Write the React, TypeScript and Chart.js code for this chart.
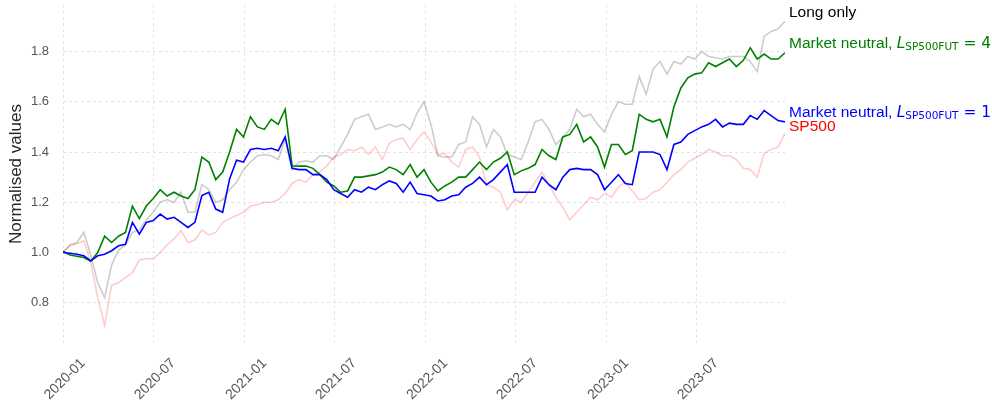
import React, { useEffect, useRef } from "react";
import { Chart, registerables } from "chart.js";

Chart.register(...registerables);

// ---- data ----
const startDate = "2020-01-01";
const stepDays = 14;

const longOnly = [
  1.00, 1.03, 1.04, 1.08, 0.99, 0.88, 0.82, 0.95, 1.01, 1.03,
  1.08, 1.09, 1.13, 1.16, 1.20, 1.21, 1.20, 1.24, 1.16, 1.16,
  1.27, 1.25, 1.20, 1.21, 1.25, 1.28, 1.33, 1.36, 1.385, 1.39,
  1.385, 1.37, 1.45, 1.33, 1.36, 1.365, 1.36, 1.385, 1.385, 1.37,
  1.42, 1.47, 1.53, 1.54, 1.55, 1.49, 1.50, 1.51, 1.50, 1.51,
  1.49, 1.555, 1.60, 1.51, 1.385, 1.38, 1.38, 1.43, 1.44, 1.54,
  1.51, 1.42, 1.49, 1.46, 1.39, 1.38, 1.37, 1.44, 1.52, 1.53,
  1.49, 1.43, 1.46, 1.49, 1.57, 1.54, 1.55, 1.51, 1.48, 1.55,
  1.60, 1.59, 1.59, 1.70, 1.63, 1.73, 1.76, 1.71, 1.76, 1.75,
  1.78, 1.77, 1.80, 1.78, 1.775, 1.77, 1.78, 1.78, 1.78, 1.76,
  1.72, 1.86, 1.88, 1.89, 1.92,
];

const marketNeutral4 = [
  1.005, 0.99, 0.985, 0.98, 0.965, 1.00, 1.065, 1.04, 1.065, 1.08,
  1.185, 1.135, 1.185, 1.215, 1.25, 1.225, 1.24, 1.225, 1.215, 1.25,
  1.38, 1.36, 1.29, 1.32, 1.40, 1.49, 1.46, 1.54, 1.50, 1.49,
  1.53, 1.51, 1.57, 1.345, 1.344, 1.344, 1.335, 1.31, 1.28, 1.265,
  1.24, 1.245, 1.30, 1.30, 1.305, 1.31, 1.32, 1.34, 1.33, 1.31,
  1.35, 1.30, 1.33, 1.28, 1.245, 1.265, 1.28, 1.30, 1.30, 1.33,
  1.36, 1.33, 1.36, 1.375, 1.40, 1.31, 1.325, 1.335, 1.35, 1.41,
  1.385, 1.37, 1.46, 1.47, 1.51, 1.44, 1.46, 1.42, 1.34, 1.43,
  1.43, 1.39, 1.405, 1.55, 1.53, 1.52, 1.53, 1.46, 1.58, 1.655,
  1.695, 1.71, 1.715, 1.755, 1.74, 1.755, 1.77, 1.74, 1.765, 1.815,
  1.77, 1.79, 1.77, 1.77, 1.795,
];

const marketNeutral1 = [
  1.00, 0.997, 0.993, 0.987, 0.967, 0.987, 0.993, 1.007, 1.027, 1.033,
  1.12, 1.073, 1.12, 1.127, 1.153, 1.133, 1.14, 1.12, 1.10, 1.12,
  1.227, 1.24, 1.173, 1.16, 1.293, 1.367, 1.36, 1.41, 1.415, 1.41,
  1.415, 1.405, 1.46, 1.335, 1.33, 1.33, 1.31, 1.31, 1.29, 1.25,
  1.235, 1.22, 1.25, 1.24, 1.26, 1.25, 1.27, 1.285, 1.275, 1.24,
  1.28, 1.235, 1.23, 1.225, 1.205, 1.21, 1.225, 1.23, 1.26, 1.275,
  1.30, 1.27, 1.29, 1.32, 1.35, 1.24, 1.24, 1.24, 1.24, 1.30,
  1.27, 1.25, 1.30, 1.33, 1.335, 1.33, 1.33, 1.31, 1.25, 1.28,
  1.31, 1.275, 1.27, 1.40, 1.40, 1.40, 1.39, 1.33, 1.43, 1.44,
  1.47, 1.485, 1.50, 1.51, 1.53, 1.50, 1.515, 1.51, 1.51, 1.545,
  1.53, 1.565, 1.545, 1.525, 1.52,
];

const sp500 = [
  1.00, 1.027, 1.035, 1.047, 0.96, 0.82, 0.71, 0.87, 0.88, 0.90,
  0.92, 0.97, 0.975, 0.975, 1.00, 1.03, 1.055, 1.087, 1.04, 1.05,
  1.09, 1.07, 1.08, 1.12, 1.135, 1.147, 1.16, 1.185, 1.19, 1.20,
  1.20, 1.21, 1.235, 1.275, 1.29, 1.28, 1.31, 1.32, 1.345, 1.38,
  1.39, 1.41, 1.405, 1.42, 1.39, 1.42, 1.37, 1.435, 1.45, 1.455,
  1.41, 1.45, 1.48, 1.44, 1.39, 1.395, 1.36, 1.34, 1.41, 1.42,
  1.38, 1.27, 1.26, 1.24, 1.17, 1.21, 1.20, 1.24, 1.28, 1.32,
  1.27, 1.22, 1.18, 1.13, 1.16, 1.19, 1.22, 1.21, 1.235, 1.22,
  1.26, 1.28, 1.245, 1.21, 1.215, 1.24, 1.25, 1.28, 1.31, 1.33,
  1.36, 1.375, 1.39, 1.41, 1.40, 1.385, 1.385, 1.37, 1.335, 1.33,
  1.30, 1.395, 1.41, 1.42, 1.475,
];

const xTickLabels = ["2020-01", "2020-07", "2021-01", "2021-07", "2022-01", "2022-07", "2023-01", "2023-07"];
const yTickValues = [0.8, 1.0, 1.2, 1.4, 1.6, 1.8];
const yAxisTitle = "Normalised values";

const labelMain = ["Market neutral, ", "Market neutral, ", "SP500", "Long only"];
const labelSub = ["SP500FUT", "SP500FUT", "", ""];
const labelSuffix = [" = 1", " = 4", "", ""];
const lineColors = ["#0000ff", "#008000", "rgba(255,0,0,0.2)", "rgba(0,0,0,0.2)"];
const textColors = ["#0000ff", "#008000", "#ff0000", "#000000"];

// ---- helpers ----
const DAY = 86400000;
const t0 = Date.parse(startDate + "T00:00:00Z");
const dates = longOnly.map((_, i) => t0 + i * stepDays * DAY);
const tickTimes = xTickLabels.map((s) => Date.parse(s + "-01T00:00:00Z"));
const fmtMonth = (v: number) => {
  const d = new Date(v);
  return d.getUTCFullYear() + "-" + String(d.getUTCMonth() + 1).padStart(2, "0");
};

const seriesValues = [marketNeutral1, marketNeutral4, sp500, longOnly];

const MAIN_FONT = '15.5px "Liberation Sans", Arial, sans-serif';
const MATH_FONT = '15.5px "DejaVu Sans", sans-serif';
const MATH_ITALIC = 'italic 15.5px "DejaVu Sans", sans-serif';
const SUB_FONT = '10.5px "DejaVu Sans", sans-serif';

const endLabels = {
  id: "endLabels",
  afterDraw(chart: any) {
    const ctx = chart.ctx;
    const ys = chart.scales.y;
    const x0 = chart.chartArea.right + 4;
    const items = chart.data.datasets.map((ds: any, i: number) => {
      const last = ds.data[ds.data.length - 1].y;
      return { i, y: ys.getPixelForValue(last) - 10 };
    });
    items.sort((a: any, b: any) => a.y - b.y);
    let prev = -Infinity;
    ctx.save();
    ctx.textBaseline = "alphabetic";
    ctx.textAlign = "left";
    for (const it of items) {
      if (it.y < prev + 14) it.y = prev + 14;
      prev = it.y;
      const i = it.i;
      const base = it.y + 5.5;
      ctx.fillStyle = textColors[i];
      let x = x0;
      ctx.font = MAIN_FONT;
      ctx.fillText(labelMain[i], x, base);
      x += ctx.measureText(labelMain[i]).width;
      if (labelSub[i]) {
        ctx.font = MATH_ITALIC;
        ctx.fillText("L", x, base);
        x += ctx.measureText("L").width;
        ctx.font = SUB_FONT;
        ctx.fillText(labelSub[i], x, base + 2);
        x += ctx.measureText(labelSub[i]).width;
        ctx.font = MATH_FONT;
        ctx.fillText(labelSuffix[i], x, base);
      }
    }
    ctx.restore();
  },
};

export default function App() {
  const ref = useRef<HTMLCanvasElement | null>(null);

  useEffect(() => {
    if (!ref.current) return;
    Chart.defaults.font.family = '"Liberation Sans", Arial, sans-serif';
    const chart = new Chart(ref.current, {
      type: "line",
      data: {
        datasets: seriesValues.map((vals, i) => ({
          label: labelMain[i] + labelSub[i] + labelSuffix[i],
          data: vals.map((v, k) => ({ x: dates[k], y: v })),
          borderColor: lineColors[i],
          backgroundColor: lineColors[i],
          borderWidth: 1.6,
          pointRadius: 0,
          tension: 0,
          fill: false,
        })),
      },
      options: {
        animation: false,
        responsive: false,
        devicePixelRatio: 1,
        layout: { padding: { top: 5, right: 207, left: 0, bottom: 0 } },
        plugins: {
          legend: { display: false },
          tooltip: { enabled: false },
        },
        scales: {
          x: {
            type: "linear",
            min: dates[0],
            max: dates[dates.length - 1],
            afterBuildTicks: (scale: any) => {
              scale.ticks = tickTimes.map((v) => ({ value: v }));
            },
            afterFit: (scale: any) => {
              scale.height = 62;
              scale.paddingLeft = 0;
              scale.paddingRight = 0;
            },
            ticks: {
              autoSkip: false,
              minRotation: 45,
              maxRotation: 45,
              color: "#555555",
              font: { size: 14 },
              padding: 12,
              labelOffset: 20,
              callback: (v: any) => fmtMonth(Number(v)),
            },
            grid: { color: "#dddddd", lineWidth: 0.8, drawTicks: false },
            border: { display: false, dash: [3, 3] },
          },
          y: {
            type: "linear",
            min: 0.64,
            max: 1.985,
            afterBuildTicks: (scale: any) => {
              scale.ticks = yTickValues.map((v) => ({ value: v }));
            },
            afterFit: (scale: any) => {
              scale.width = 63;
              scale.paddingTop = 0;
              scale.paddingBottom = 0;
            },
            ticks: {
              color: "#555555",
              font: { size: 13 },
              padding: 14,
              callback: (v: any) => Number(v).toFixed(1),
            },
            grid: { color: "#dddddd", lineWidth: 0.8, drawTicks: false },
            border: { display: false, dash: [3, 3] },
            title: {
              display: true,
              text: yAxisTitle,
              color: "#262626",
              font: { size: 17 },
              padding: { top: 6, bottom: 0 },
            },
          },
        },
      },
      plugins: [endLabels],
    });
    return () => chart.destroy();
  }, []);

  return (
    <div style={{ position: "fixed", left: 0, top: 0, width: 992, height: 405, background: "#fff" }}>
      <canvas ref={ref} width={992} height={405} style={{ display: "block" }} />
    </div>
  );
}
